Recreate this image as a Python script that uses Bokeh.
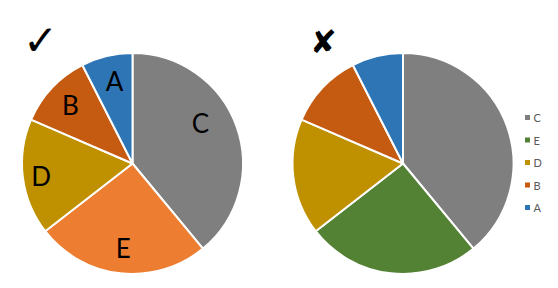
import math
from bokeh.plotting import figure
from bokeh.models import Range1d, ColumnDataSource
from bokeh.core.properties import value
from bokeh.embed import file_html
from bokeh.resources import INLINE

# Slice order (clockwise from 12 o'clock) and values
categories = ["C", "E", "D", "B", "A"]
values = [39, 25.5, 17, 11, 7.5]
good_colors = ["#7F7F7F", "#ED7D31", "#BF9000", "#C55A11", "#2E75B6"]
bad_colors = ["#7F7F7F", "#548235", "#BF9000", "#C55A11", "#2E75B6"]

W, H = 558, 288
R = 110.5
CY = H - 163
LEFT_CX, RIGHT_CX = 132, 402.5

# best-fit nudges (px) for the in-slice labels
label_dx = [-12, 0, -7, 0, 2]
label_dy = [12, 0, -2, 0, 0]

p = figure(width=W, height=H, output_backend="svg", toolbar_location=None,
           x_range=Range1d(0, W), y_range=Range1d(0, H), min_border=0)
p.axis.visible = False
p.grid.visible = False
p.outline_line_color = None
p.background_fill_color = "white"


def pie_source(cx, colors):
    total = sum(values)
    starts, ends, mids = [], [], []
    cum = 0.0
    for v in values:
        a0 = math.pi / 2 - cum / total * 2 * math.pi
        cum += v
        a1 = math.pi / 2 - cum / total * 2 * math.pi
        starts.append(a0)
        ends.append(a1)
        mids.append((a0 + a1) / 2)
    return ColumnDataSource(dict(
        x=[cx] * len(values), y=[CY] * len(values),
        start=starts, end=ends, mid=mids, color=colors, cat=categories,
    ))


left = pie_source(LEFT_CX, good_colors)
right = pie_source(RIGHT_CX, bad_colors)

for src in (left, right):
    p.wedge(x="x", y="y", radius=R, start_angle="start", end_angle="end",
            direction="clock", fill_color="color", line_color="white",
            line_width=2, source=src)

# Category labels inside the left pie's slices
lab_r = 0.77 * R
lx = [LEFT_CX + lab_r * math.cos(a) + dx
      for a, dx in zip(left.data["mid"], label_dx)]
ly = [CY + lab_r * math.sin(a) + dy
      for a, dy in zip(left.data["mid"], label_dy)]
p.text(x=lx, y=ly, text=categories, text_font=value("Lato"),
       text_font_size="26px", text_color="black",
       text_align="center", text_baseline="middle")

# Right-side legend
leg_y = [H - 117 - 22.5 * i for i in range(len(categories))]
p.scatter(x=[527] * len(categories), y=leg_y, marker="square", size=5,
          fill_color=bad_colors, line_color=None)
p.text(x=[533] * len(categories), y=leg_y, text=categories,
       text_font=value("Lato"), text_font_size="11px", text_color="#595959",
       text_align="left", text_baseline="middle")

# Tick and cross marks above the pies
p.text(x=[40], y=[H - 40], text=["\u2713"], text_font=value("DejaVu Sans"),
       text_font_size="42px", text_font_style="bold", text_color="black",
       text_align="center", text_baseline="middle")
p.text(x=[323], y=[H - 41], text=["\u2718"], text_font=value("DejaVu Sans"),
       text_font_size="32px", text_color="black",
       text_align="center", text_baseline="middle")

open("out.html", "w").write(file_html(p, INLINE))
